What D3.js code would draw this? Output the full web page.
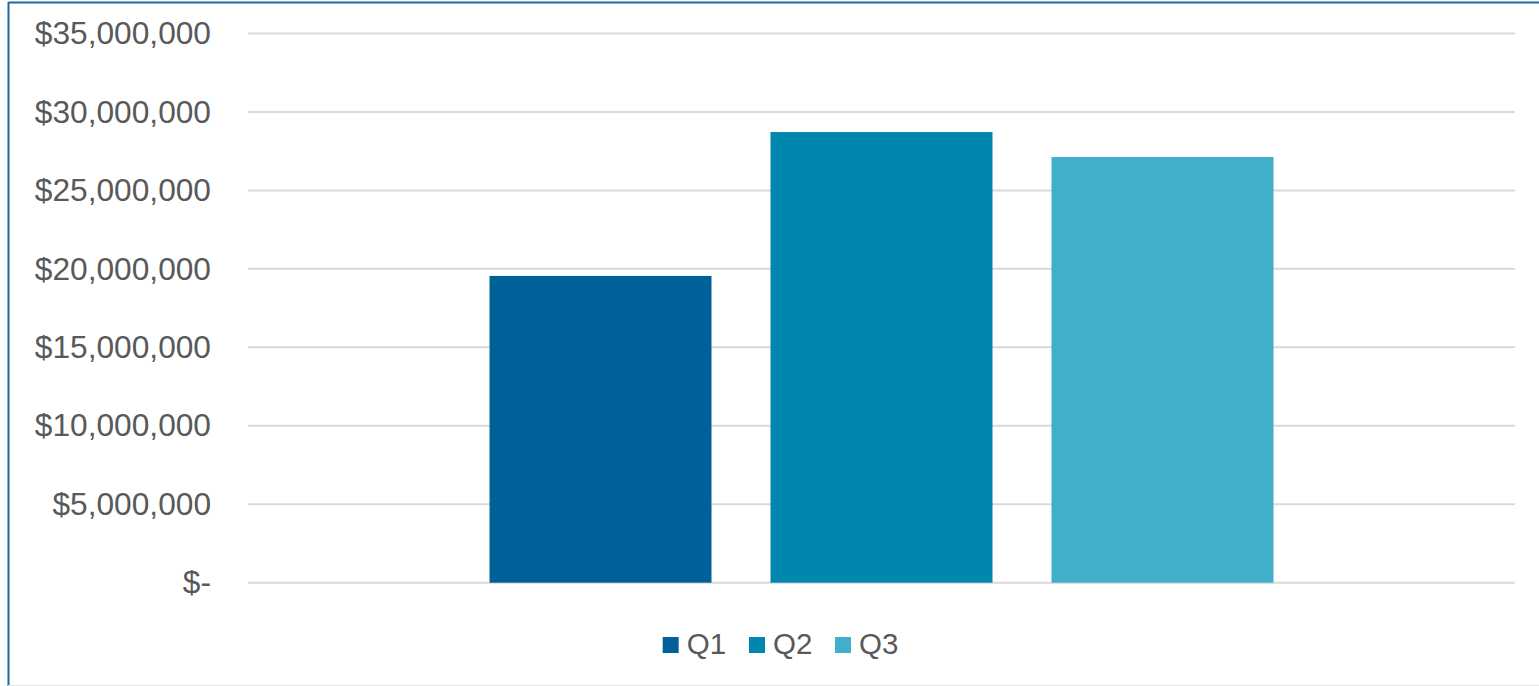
<!DOCTYPE html>
<html>
<head>
<meta charset="utf-8">
<script src="https://cdn.jsdelivr.net/npm/d3@7"></script>
<style>
  html, body { margin: 0; padding: 0; background: #fff; }
  svg { display: block; }
  text { font-family: "Liberation Sans", Arial, sans-serif; fill: #595959; }
</style>
</head>
<body>
<svg id="chart" width="1539" height="686"></svg>
<script>
const categories = ["Q1", "Q2", "Q3"];
const values = [19550000, 28720000, 27130000];
const colors = ["#006199", "#0087ad", "#41aeca"];
const tickValues = [0, 5000000, 10000000, 15000000, 20000000, 25000000, 30000000, 35000000];

const svg = d3.select("#chart");
const W = 1539, H = 686;
const plot = { left: 248, right: 1515, top: 33.5, bottom: 582.7 };

// frame
svg.append("line").attr("x1", 8.5).attr("x2", W).attr("y1", 2.5).attr("y2", 2.5)
  .attr("stroke", "#1a6aa3").attr("stroke-width", 2);
svg.append("line").attr("x1", 8.5).attr("x2", 8.5).attr("y1", 2).attr("y2", H)
  .attr("stroke", "#1a6aa3").attr("stroke-width", 2);
svg.append("line").attr("x1", 8).attr("x2", W).attr("y1", 685.5).attr("y2", 685.5)
  .attr("stroke", "#dde8f1").attr("stroke-width", 1);

const y = d3.scaleLinear().domain([0, 35000000]).range([plot.bottom, plot.top]);
const x = d3.scaleBand().domain(categories).range([plot.left, plot.right])
  .paddingInner(0.21).paddingOuter(0.8595);

const fmt = v => v === 0 ? "$-" : "$" + d3.format(",")(v);

// gridlines
svg.append("g").selectAll("line").data(tickValues).join("line")
  .attr("x1", plot.left).attr("x2", plot.right)
  .attr("y1", d => y(d)).attr("y2", d => y(d))
  .attr("stroke", "#d9d9d9").attr("stroke-width", 2);

// y axis
const yAxis = d3.axisLeft(y).tickValues(tickValues).tickFormat(fmt).tickSize(0).tickPadding(37);
const ga = svg.append("g").attr("transform", `translate(${plot.left},0)`).call(yAxis);
ga.select(".domain").remove();
ga.selectAll("text").style("font-size", "31.7px").attr("fill", "#595959")
  .style("font-family", '"Liberation Sans", Arial, sans-serif');

// bars
svg.append("g").selectAll("rect").data(categories).join("rect")
  .attr("x", d => x(d)).attr("width", x.bandwidth())
  .attr("y", (d, i) => y(values[i]))
  .attr("height", (d, i) => y(0) - y(values[i]))
  .attr("fill", (d, i) => colors[i]);

// legend
const legendX = [662.7, 749, 835];
const lg = svg.append("g");
categories.forEach((c, i) => {
  lg.append("rect").attr("x", legendX[i]).attr("y", 637).attr("width", 16).attr("height", 16)
    .attr("fill", colors[i]);
  lg.append("text").attr("x", legendX[i] + 24).attr("y", 653.5)
    .style("font-size", "29.5px").text(c);
});
</script>
</body>
</html>
